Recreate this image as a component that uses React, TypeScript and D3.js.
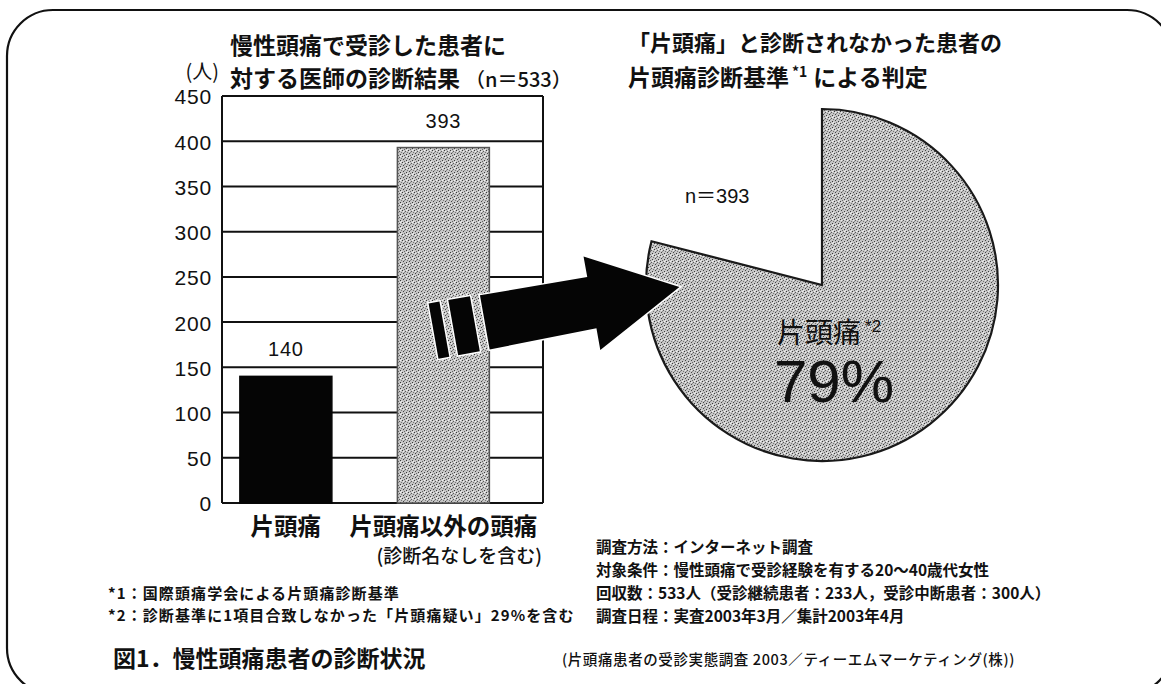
import React from 'react';
import * as d3 from 'd3';

// bar chart: doctor's diagnosis for chronic headache patients (n=533)
const categories = ['片頭痛', '片頭痛以外の頭痛'];
const patientCounts = [140, 393];
const yTicks = [0, 50, 100, 150, 200, 250, 300, 350, 400, 450];

// pie: judgement by migraine criteria for the 393 patients not diagnosed as migraine
const pieLabels = ['片頭痛', 'その他'];
const pieShares = [79, 21];

const footnotes = [
  '*1：国際頭痛学会による片頭痛診断基準',
  '*2：診断基準に1項目合致しなかった「片頭痛疑い」29%を含む',
];
const surveyNotes = [
  '調査方法：インターネット調査',
  '対象条件：慢性頭痛で受診経験を有する20～40歳代女性',
  '回収数：533人（受診継続患者：233人，受診中断患者：300人）',
  '調査日程：実査2003年3月／集計2003年4月',
];

const W = 1161;
const H = 684;
const JP = '"Noto Sans CJK JP", "Noto Sans", sans-serif';
const NUM = '"Liberation Sans", Arial, "Noto Sans CJK JP", sans-serif';

const plot = { left: 222, right: 543, top: 96, bottom: 503 };
const pieCenter = { x: 822, y: 285 };
const pieRadius = 176;

const App: React.FC = () => {
  const y = d3.scaleLinear().domain([0, 450]).range([plot.bottom, plot.top]);
  const x = d3
    .scaleBand<string>()
    .domain(categories)
    .range([plot.left, plot.right])
    .paddingInner(0.416)
    .paddingOuter(0.227)
    .align(0.25);
  const bw = x.bandwidth();

  const slices = d3.pie<number>().sort(null)(pieShares);
  const arc = d3.arc<d3.PieArcDatum<number>>().innerRadius(0).outerRadius(pieRadius);

  // arrow from the second bar to the pie
  const ax = (x(categories[1]) ?? 0) + bw / 2;
  const ay = y(192);
  const tx = pieCenter.x - pieRadius * 0.81;
  const ty = pieCenter.y + 2;
  const angle = (Math.atan2(ty - ay, tx - ax) * 180) / Math.PI;
  const len = Math.hypot(tx - ax, ty - ay);
  const headStart = len - 89;

  return (
    <div style={{ position: 'absolute', left: 0, top: 0 }}>
      <svg width={W} height={H} style={{ display: 'block', background: '#fff' }}>
        <defs>
          <pattern id="stipple" width="6" height="6" patternUnits="userSpaceOnUse">
            <rect width="6" height="6" fill="#c6c6c6" />
            <rect x="0" y="0" width="1" height="1" fill="#3a3a3a" />
            <rect x="3" y="1" width="1" height="1" fill="#5a5a5a" />
            <rect x="1" y="3" width="1" height="1" fill="#444" />
            <rect x="4" y="4" width="1" height="1" fill="#3a3a3a" />
            <rect x="5" y="2" width="1" height="1" fill="#777" />
            <rect x="2" y="5" width="1" height="1" fill="#666" />
            <rect x="2" y="2" width="1" height="1" fill="#888" />
            <rect x="4" y="0" width="1" height="1" fill="#f2f2f2" />
            <rect x="1" y="1" width="1" height="1" fill="#eee" />
            <rect x="5" y="5" width="1" height="1" fill="#ececec" />
          </pattern>
        </defs>

        {/* outer rounded frame */}
        <rect x={7} y={10} width={1166} height={684} rx={46} fill="none" stroke="#111" strokeWidth={2.2} />

        {/* titles */}
        <text x={230} y={54} fontFamily={JP} fontWeight={700} fontSize={23} fill="#111">
          慢性頭痛で受診した患者に
        </text>
        <text x={230} y={87} fontFamily={JP} fontWeight={700} fontSize={23} fill="#111">
          対する医師の診断結果
          <tspan fontSize={20} fontWeight={500} dx={5}>（n＝533）</tspan>
        </text>
        <text x={219} y={79} textAnchor="end" fontFamily={JP} fontSize={20} fill="#111">
          (人)
        </text>

        <text x={628} y={51} fontFamily={JP} fontWeight={700} fontSize={22} fill="#111">
          「片頭痛」と診断されなかった患者の
        </text>
        <text x={628} y={86} fontFamily={JP} fontWeight={700} fontSize={23} fill="#111">
          片頭痛診断基準
          <tspan fontSize={14} dy={-9} dx={3}>*1</tspan>
          <tspan dy={9} dx={6}>による判定</tspan>
        </text>

        {/* grid + frame */}
        {yTicks.map((t) => (
          <line key={t} x1={plot.left} x2={plot.right} y1={y(t)} y2={y(t)} stroke="#111" strokeWidth={2} />
        ))}
        <line x1={plot.left} x2={plot.left} y1={plot.top} y2={plot.bottom} stroke="#111" strokeWidth={2} />
        <line x1={plot.right} x2={plot.right} y1={plot.top} y2={plot.bottom} stroke="#111" strokeWidth={2} />
        {yTicks.map((t) => (
          <text key={'l' + t} x={212} y={y(t)} dy="0.4em" textAnchor="end" fontFamily={NUM} fontSize={21} letterSpacing={0.8} fill="#111">
            {t}
          </text>
        ))}

        {/* bars */}
        {categories.map((c, i) => (
          <g key={c}>
            <rect
              x={x(c)}
              y={y(patientCounts[i])}
              width={bw}
              height={y(0) - y(patientCounts[i])}
              fill={i === 0 ? '#050505' : 'url(#stipple)'}
              stroke={i === 0 ? '#050505' : '#555'}
              strokeWidth={1.5}
            />
            <text
              x={(x(c) ?? 0) + bw / 2}
              y={y(patientCounts[i]) - 20}
              textAnchor="middle"
              fontFamily={NUM}
              fontSize={20}
              letterSpacing={0.8}
              fill="#111"
            >
              {patientCounts[i]}
            </text>
            <text
              x={(x(c) ?? 0) + bw / 2}
              y={535}
              textAnchor="middle"
              fontFamily={JP}
              fontWeight={700}
              fontSize={23.5}
              fill="#111"
            >
              {c}
            </text>
          </g>
        ))}
        <text x={542} y={563} textAnchor="end" fontFamily={JP} fontWeight={500} fontSize={19} fill="#111">
          (診断名なしを含む)
        </text>

        {/* pie */}
        <g transform={`translate(${pieCenter.x},${pieCenter.y})`}>
          {slices.slice(0, 1).map((s, i) => (
            <path key={pieLabels[i]} d={arc(s) ?? ''} fill="url(#stipple)" stroke="#1a1a1a" strokeWidth={2.2} />
          ))}
        </g>
        <text x={685} y={203} fontFamily={NUM} fontSize={20} fill="#111">
          n＝393
        </text>
        <text x={777} y={343} fontFamily={JP} fontSize={28} fill="#111">
          {pieLabels[0]}
          <tspan fontFamily={NUM} fontSize={17} dy={-11} dx={4}>*2</tspan>
        </text>
        <text x={834} y={402} textAnchor="middle" fontFamily={NUM} fontSize={60} fill="#111">
          {pieShares[0]}%
        </text>

        {/* arrow */}
        <g transform={`translate(${ax},${ay}) rotate(${angle})`} fill="#050505" stroke="#fff" strokeWidth={3} paintOrder="stroke">
          <polygon points="-10,-28 1,-28 1,28 -10,28" />
          <polygon points="10,-28 32,-28 32,28 10,28" />
          <polygon points={`42,-27 ${headStart},-26 ${headStart},-47 ${len},0 ${headStart},48 ${headStart},26 42,28`} />
        </g>

        {/* footnotes */}
        {footnotes.map((f, i) => (
          <text key={f} x={108} y={599 + i * 22} fontFamily={JP} fontWeight={700} fontSize={15} letterSpacing={1.1} fill="#111">
            {f}
          </text>
        ))}
        <text x={113} y={667} fontFamily={JP} fontWeight={700} fontSize={23} fill="#111">
          図1．慢性頭痛患者の診断状況
        </text>

        {surveyNotes.map((n, i) => (
          <text key={n} x={596} y={553 + i * 23} fontFamily={JP} fontWeight={700} fontSize={15.5} fill="#111">
            {n}
          </text>
        ))}
        <text x={562} y={665} fontFamily={JP} fontWeight={500} fontSize={14.5} letterSpacing={0.6} fill="#111">
          (片頭痛患者の受診実態調査 2003／ティーエムマーケティング(株))
        </text>
      </svg>
    </div>
  );
};

export default App;
